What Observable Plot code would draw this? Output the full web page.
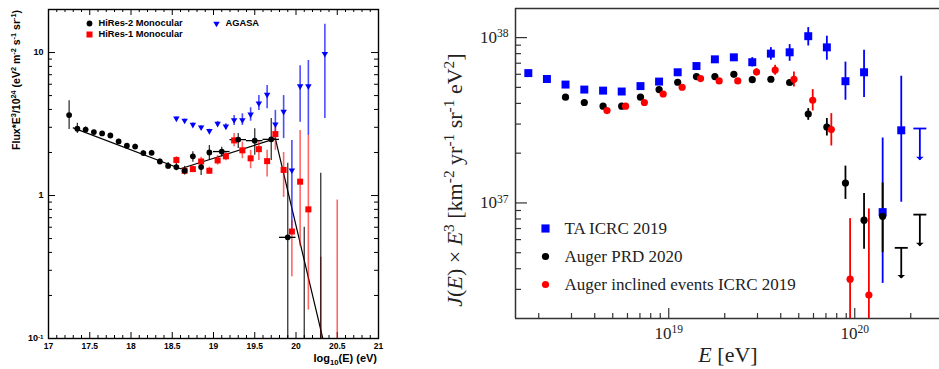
<!DOCTYPE html>
<html><head><meta charset="utf-8">
<script src="https://cdn.jsdelivr.net/npm/d3@7"></script>
<script src="https://cdn.jsdelivr.net/npm/@observablehq/plot@0.6"></script>
<style>
html,body{margin:0;padding:0;background:#fff;overflow:hidden;width:939px;height:369px}
#wrap{position:relative;width:939px;height:369px;overflow:hidden}
#left{position:absolute;left:0;top:0;width:390px;height:369px}
#right{position:absolute;left:440px;top:0;width:503px;height:369px}
</style></head>
<body><div id="wrap"><div id="left"></div><div id="right"></div></div>
<script>
// ================= LEFT PANEL DATA (log10(E) vs Flux*E^3/10^24) =================
const hr2LogE = [17.25,17.35,17.45,17.55,17.65,17.75,17.85,17.95,18.05,18.15,18.25,18.35,18.45,18.55,18.65,18.75,18.85,18.95,19.1,19.3,19.5,19.7,19.9];
const hr2Flux = [3.65,2.93,2.89,2.78,2.72,2.63,2.39,2.23,2.20,1.98,1.99,1.73,1.61,1.58,1.49,1.88,1.58,2.00,2.03,2.46,2.42,2.47,0.51];
const hr2Lo   = [2.90,2.72,2.76,2.70,2.64,2.55,2.32,2.15,2.12,1.91,1.92,1.66,1.53,1.49,1.39,1.71,1.38,1.76,1.86,2.13,1.91,1.76,0.05];
const hr2Hi   = [4.60,3.20,3.02,2.86,2.80,2.72,2.47,2.31,2.28,2.06,2.07,1.80,1.70,1.68,1.60,2.02,1.76,2.24,2.18,2.71,2.93,3.45,1.68];
const hr2BinLogE = [19.1,19.3,19.5,19.7,19.9];
const hr2BinFlux = [2.03,2.46,2.42,2.47,0.51];
const hr2BinHalf = 0.1;
const hr2BarLogE = [20.1,20.3];
const hr2BarLo   = [0.05,0.05];
const hr2BarHi   = [0.60,1.43];

const hr1LogE = [18.55,18.65,18.75,18.85,18.95,19.05,19.15,19.25,19.35,19.45,19.55,19.65,19.75,19.85,19.95,20.05,20.15];
const hr1Flux = [1.77,1.49,1.53,1.73,1.49,1.76,1.88,2.43,2.07,1.82,2.11,1.74,2.69,1.51,0.56,1.25,0.80];
const hr1Lo   = [1.68,1.42,1.46,1.62,1.41,1.63,1.75,2.19,1.81,1.54,1.76,1.35,2.07,0.97,0.27,0.44,0.158];
const hr1Hi   = [1.87,1.57,1.61,1.85,1.58,1.91,2.00,2.71,2.37,2.07,2.43,2.07,3.01,2.00,0.67,2.85,2.63];
const hr1BarLogE = [20.3,20.5];
const hr1BarLo   = [0.05,0.05];
const hr1BarHi   = [0.37,0.93];

const agLogE = [18.55,18.65,18.75,18.85,18.95,19.05,19.15,19.25,19.35,19.45,19.55,19.65,19.75,19.85,19.95,20.05,20.15,20.35];
const agFlux = [3.46,3.34,3.13,3.00,2.83,3.18,3.04,3.37,3.37,3.69,4.41,5.07,3.15,3.86,1.50,5.82,5.82,9.8];
const agLo   = [3.38,3.26,3.05,2.92,2.75,3.05,2.90,3.09,3.09,3.31,3.94,4.05,2.50,2.50,0.56,3.26,2.63,3.45];
const agHi   = [3.54,3.42,3.21,3.08,2.91,3.30,3.18,3.63,3.73,4.11,5.00,5.88,3.94,5.00,2.43,8.10,8.80,15.8];

const fitLogE = [17.3,18.6,19.75,20.325];
const fitFlux = [2.97,1.54,2.50,0.10];

const leftXTicks = [17,17.5,18,18.5,19,19.5,20,20.5,21];
const leftXTickLabels = ["17","17.5","18","18.5","19","19.5","20","20.5","21"];
const leftYTicks = [0.1,1,10];
const leftYTickLabels = ["10^-1","1","10"];
const leftLegend = ["HiRes-2 Monocular","HiRes-1 Monocular","AGASA"];

// ================= RIGHT PANEL DATA (E [eV] vs J(E)E^3 in 1e37 units) =================
const taLogE = [18.245,18.345,18.445,18.546,18.647,18.747,18.848,18.948,19.048,19.149,19.248,19.35,19.449,19.549,19.65,19.75,19.85,19.95,20.05,20.15,20.25];
const taJ    = [6.10,5.62,5.20,4.85,4.78,4.72,5.09,5.42,6.17,6.73,7.39,7.60,7.10,8.00,8.15,10.2,8.73,5.45,6.17,0.88,2.75];
const taLo   = [6.10,5.62,5.20,4.85,4.78,4.72,5.09,5.42,6.17,6.73,7.39,7.60,6.64,7.30,7.19,8.90,7.30,4.18,4.34,0.326,1.01];
const taHi   = [6.10,5.62,5.20,4.85,4.78,4.72,5.09,5.42,6.17,6.73,7.39,7.60,7.57,8.70,9.07,11.5,10.2,7.11,8.38,2.47,5.84];
const taULLogE = [20.35];
const taULCap  = [2.82];
const taULTip  = [1.81];

const augLogE = [18.445,18.546,18.647,18.747,18.848,18.948,19.048,19.149,19.248,19.35,19.449,19.549,19.65,19.75,19.85,19.95,20.05,20.15];
const augJ    = [4.36,4.05,3.85,3.85,4.36,4.85,5.37,5.81,5.81,6.00,5.57,5.60,5.35,3.45,2.88,1.32,0.787,0.83];
const augLo   = [4.36,4.05,3.85,3.85,4.36,4.85,5.37,5.81,5.81,6.00,5.57,5.60,5.20,3.16,2.54,1.05,0.525,0.50];
const augHi   = [4.36,4.05,3.85,3.85,4.36,4.85,5.37,5.81,5.81,6.00,5.57,5.60,5.50,3.72,3.24,1.67,1.14,1.32];
const augULLogE = [20.25,20.35];
const augULCap  = [0.535,0.85];
const augULTip  = [0.349,0.547];

const incLogE = [18.668,18.768,18.869,18.97,19.072,19.171,19.271,19.371,19.472,19.572,19.673,19.774,19.874,19.975,20.076];
const incJ    = [3.62,3.85,4.05,4.56,5.01,5.65,5.47,5.47,6.19,6.37,5.60,4.18,2.78,0.346,0.277];
const incLo   = [3.62,3.85,4.05,4.56,5.01,5.65,5.47,5.47,5.92,5.92,5.02,3.60,2.21,0.10,0.10];
const incHi   = [3.62,3.85,4.05,4.56,5.01,5.65,5.47,5.47,6.49,6.80,6.19,4.85,3.47,0.804,0.92];

const rightXTicks = [1e19,1e20];
const rightXTickLabels = ["10^19","10^20"];
const rightYTicks = [1,10];
const rightYTickLabels = ["10^37","10^38"];
const rightLegend = ["TA ICRC 2019","Auger PRD 2020","Auger inclined events ICRC 2019"];

// ================= helpers =================
const tbl = (xs, ys, lo, hi) => xs.map((x, i) => ({x, y: ys[i], lo: lo ? lo[i] : null, hi: hi ? hi[i] : null}));
const etbl = (logs, ys, lo, hi) => tbl(logs.map(l => Math.pow(10, l)), ys, lo, hi);

const triDown = {draw(ctx, size) {
  const r = Math.sqrt(size / Math.PI);
  const a = r * 1.15, h = r * 2.0;
  ctx.moveTo(-a, -h / 3); ctx.lineTo(a, -h / 3); ctx.lineTo(0, 2 * h / 3); ctx.closePath();
}};
const arrowTip = {draw(ctx, size) {
  const r = Math.sqrt(size / Math.PI);
  ctx.moveTo(-r, -r * 0.95); ctx.lineTo(r, -r * 0.95); ctx.lineTo(0, 0); ctx.closePath();
}};
const hbar = {draw(ctx, size) {
  const r = Math.sqrt(size / Math.PI);
  ctx.moveTo(-r, 0); ctx.lineTo(r, 0);
}};

function supify(svg, supDy) {
  d3.select(svg).selectAll("text").each(function() {
    const t = this.textContent;
    if (!t || !t.includes("^")) return;
    const [base, exp] = t.split("^");
    const sel = d3.select(this);
    sel.text(null);
    sel.append("tspan").text(base);
    sel.append("tspan").attr("dy", supDy).attr("font-size", "68%").text(exp);
  });
}
function rich(sel, parts, supShift, subShift) {
  let cur = 0;
  parts.forEach(([s, kind]) => {
    const ts = sel.append("tspan").text(s);
    const target = kind === "sup" ? -supShift : kind === "sub" ? subShift : 0;
    if (target !== cur) { ts.attr("dy", target - cur); cur = target; }
    if (kind === "sup" || kind === "sub") ts.attr("font-size", "70%");
    if (kind === "i") ts.attr("font-style", "italic");
  });
}

// ================= LEFT PLOT =================
const lw = 390, lh = 369, lml = 48, lmr = 12, lmt = 9, lmb = 31;
const lpw = lw - lml - lmr, lph = lh - lmt - lmb;
const leftXMinor = d3.range(17.1, 21, 0.1).filter(v => Math.abs(v * 2 - Math.round(v * 2)) > 1e-6);
const leftYMinor = [2,3,4,5,6,7,8,9].flatMap(m => [m * 0.1, m, m * 10]).filter(v => v < 20);

const hr2 = tbl(hr2LogE, hr2Flux, hr2Lo, hr2Hi);
const hr2Bin = tbl(hr2BinLogE, hr2BinFlux);
const hr2Bar = tbl(hr2BarLogE, hr2BarHi, hr2BarLo, hr2BarHi);
const hr1 = tbl(hr1LogE, hr1Flux, hr1Lo, hr1Hi);
const hr1Bar = tbl(hr1BarLogE, hr1BarHi, hr1BarLo, hr1BarHi);
const ag = tbl(agLogE, agFlux, agLo, agHi);
const fit = tbl(fitLogE, fitFlux);

const legL = {frameAnchor: "top-left", textAnchor: "start", lineAnchor: "middle", fontSize: 9.3, fontWeight: "bold", fill: "#000"};

const leftPlot = Plot.plot({
  width: lw, height: lh, marginLeft: lml, marginRight: lmr, marginTop: lmt, marginBottom: lmb,
  x: {domain: [17, 21]},
  y: {type: "log", domain: [0.1, 20]},
  style: {fontFamily: "'Liberation Sans', Arial, sans-serif", background: "transparent", maxWidth: "none", overflow: "visible"},
  marks: [
    Plot.tickX(leftXTicks, {x: d => d, insetTop: lph - 6, stroke: "#000"}),
    Plot.tickX(leftXMinor, {x: d => d, insetTop: lph - 3, stroke: "#000"}),
    Plot.tickX(leftXTicks, {x: d => d, insetBottom: lph - 6, stroke: "#000"}),
    Plot.tickX(leftXMinor, {x: d => d, insetBottom: lph - 3, stroke: "#000"}),
    Plot.tickY(leftYTicks, {y: d => d, insetRight: lpw - 7, stroke: "#000"}),
    Plot.tickY(leftYMinor, {y: d => d, insetRight: lpw - 4, stroke: "#000"}),
    Plot.tickY(leftYTicks, {y: d => d, insetLeft: lpw - 7, stroke: "#000"}),
    Plot.tickY(leftYMinor, {y: d => d, insetLeft: lpw - 4, stroke: "#000"}),
    Plot.frame({stroke: "#000", strokeWidth: 1.4}),
    Plot.axisX(leftXTicks, {tickSize: 0, tickPadding: 4, fontSize: 8.5, fontWeight: "bold", label: null,
      tickFormat: d => leftXTickLabels[leftXTicks.indexOf(d)]}),
    Plot.axisY(leftYTicks, {tickSize: 0, tickPadding: 5, fontSize: 9, fontWeight: "bold", label: null,
      tickFormat: d => leftYTickLabels[leftYTicks.indexOf(d)]}),
    // fit
    Plot.line(fit, {x: "x", y: "y", stroke: "#000", strokeWidth: 1.2, clip: true}),
    // error bars
    Plot.ruleX(ag, {x: "x", y1: "lo", y2: "hi", stroke: "#0000ff", strokeOpacity: 0.7, strokeWidth: 1.6, clip: true}),
    Plot.ruleX(hr1, {x: "x", y1: "lo", y2: "hi", stroke: "#ff0000", strokeOpacity: 0.6, strokeWidth: 1.6, clip: true}),
    Plot.ruleX(hr1Bar, {x: "x", y1: "lo", y2: "hi", stroke: "#ff0000", strokeOpacity: 0.6, strokeWidth: 1.6, clip: true}),
    Plot.ruleX(hr2, {x: "x", y1: "lo", y2: "hi", stroke: "#000", strokeOpacity: 0.8, strokeWidth: 1.3, clip: true}),
    Plot.ruleX(hr2Bar, {x: "x", y1: "lo", y2: "hi", stroke: "#000", strokeOpacity: 0.8, strokeWidth: 1.3, clip: true}),
    Plot.ruleY(hr2Bin, {y: "y", x1: d => d.x - hr2BinHalf, x2: d => d.x + hr2BinHalf, stroke: "#000", strokeWidth: 1.3}),
    // markers
    Plot.dot(ag, {x: "x", y: "y", symbol: triDown, r: 2.8, fill: "#0000ff", stroke: "none"}),
    Plot.dot(hr1, {x: "x", y: "y", symbol: "square", r: 3.4, fill: "#ff0000", stroke: "none"}),
    Plot.dot(hr2, {x: "x", y: "y", r: 2.9, fill: "#000", stroke: "none"}),
    // legend
    Plot.dot([leftLegend[0]], {frameAnchor: "top-left", dx: 41, dy: 14, r: 2.9, fill: "#000", stroke: "none"}),
    Plot.dot([leftLegend[1]], {frameAnchor: "top-left", dx: 41, dy: 25, symbol: "square", r: 3.4, fill: "#ff0000", stroke: "none"}),
    Plot.dot([leftLegend[2]], {frameAnchor: "top-left", dx: 168, dy: 14, symbol: triDown, r: 2.8, fill: "#0000ff", stroke: "none"}),
    Plot.text([leftLegend[0]], {...legL, text: d => d, dx: 50, dy: 14}),
    Plot.text([leftLegend[1]], {...legL, text: d => d, dx: 50, dy: 25}),
    Plot.text([leftLegend[2]], {...legL, text: d => d, dx: 177, dy: 14})
  ]
});
supify(leftPlot, "-0.45em");
{
  const s = d3.select(leftPlot);
  const yt = s.append("text").attr("transform", "translate(20,10) rotate(-90)")
    .attr("text-anchor", "end").attr("font-size", 10.5).attr("font-weight", "bold").attr("fill", "#000");
  rich(yt, [["Flux*E",""],["3","sup"],["/10",""],["24","sup"],[" (eV",""],["2","sup"],[" m",""],["-2","sup"],[" s",""],["-1","sup"],[" sr",""],["-1","sup"],[")",""]], 4, 3);
  const xt = s.append("text").attr("x", 377).attr("y", 362)
    .attr("text-anchor", "end").attr("font-size", 11).attr("font-weight", "bold").attr("fill", "#000");
  rich(xt, [["log",""],["10","sub"],["(E) (eV)",""]], 4, 3);
}
document.getElementById("left").appendChild(leftPlot);

// ================= RIGHT PLOT =================
const rw = 503, rh = 369, rml = 75, rmr = 0, rmt = 8, rmb = 51;
const rpw = rw - rml - rmr, rph = rh - rmt - rmb;
const rXDom = [1.5e18, 3e20], rYDom = [0.2, 15];
const rightXMinor = [2,3,4,5,6,7,8,9].flatMap(m => [m * 1e18, m * 1e19, m * 1e20]).filter(v => v > rXDom[0] && v < rXDom[1]);
const rightYMinor = [2,3,4,5,6,7,8,9].flatMap(m => [m * 0.1, m]).filter(v => v > rYDom[0] && v < rYDom[1]);

const ta = etbl(taLogE, taJ, taLo, taHi);
const taUL = etbl(taULLogE, taULCap, taULCap, taULTip);
const aug = etbl(augLogE, augJ, augLo, augHi);
const augUL = etbl(augULLogE, augULCap, augULCap, augULTip);
const inc = etbl(incLogE, incJ, incLo, incHi);

const cBlue = "#0000ff", cRed = "#ff0000", cBlack = "#000";
const axisC = "#333";
const legR = {frameAnchor: "top-left", textAnchor: "start", lineAnchor: "middle", fontSize: 17, fill: "#222"};
const rightPlot = Plot.plot({
  width: rw, height: rh, marginLeft: rml, marginRight: rmr, marginTop: rmt, marginBottom: rmb,
  x: {type: "log", domain: rXDom},
  y: {type: "log", domain: rYDom},
  style: {fontFamily: "'Liberation Serif', 'Times New Roman', serif", background: "transparent", maxWidth: "none", overflow: "visible"},
  marks: [
    Plot.tickX(rightXTicks, {x: d => d, insetTop: rph - 10, stroke: axisC, strokeWidth: 1.2}),
    Plot.tickX(rightXMinor, {x: d => d, insetTop: rph - 5, stroke: axisC, strokeWidth: 1.2}),
    Plot.tickY(rightYTicks, {y: d => d, insetRight: rpw - 12, stroke: axisC, strokeWidth: 1.2}),
    Plot.tickY(rightYMinor, {y: d => d, insetRight: rpw - 6, stroke: axisC, strokeWidth: 1.2}),
    Plot.ruleY([rYDom[1]], {stroke: axisC, strokeWidth: 1.5}),
    Plot.ruleY([rYDom[0]], {stroke: axisC, strokeWidth: 1.5}),
    Plot.ruleX([rXDom[0]], {stroke: axisC, strokeWidth: 1.5}),
    Plot.axisX(rightXTicks, {tickSize: 0, tickPadding: 8, fontSize: 17, label: null, fill: "#222",
      tickFormat: d => rightXTickLabels[rightXTicks.indexOf(d)]}),
    Plot.axisY(rightYTicks, {tickSize: 0, tickPadding: 7, fontSize: 17, label: null, fill: "#222",
      tickFormat: d => rightYTickLabels[rightYTicks.indexOf(d)]}),
    // error bars
    Plot.ruleX(ta, {x: "x", y1: "lo", y2: "hi", stroke: cBlue, strokeWidth: 1.8, clip: true}),
    Plot.ruleX(aug, {x: "x", y1: "lo", y2: "hi", stroke: cBlack, strokeWidth: 1.8, clip: true}),
    Plot.ruleX(inc, {x: "x", y1: "lo", y2: "hi", stroke: cRed, strokeWidth: 1.8, clip: true}),
    // upper limits
    Plot.ruleX(taUL, {x: "x", y1: "lo", y2: "hi", stroke: cBlue, strokeWidth: 1.8}),
    Plot.dot(taUL, {x: "x", y: "lo", symbol: hbar, r: 6.5, fill: "none", stroke: cBlue, strokeWidth: 1.8}),
    Plot.dot(taUL, {x: "x", y: "hi", symbol: arrowTip, r: 3.8, fill: cBlue, stroke: "none"}),
    Plot.ruleX(augUL, {x: "x", y1: "lo", y2: "hi", stroke: cBlack, strokeWidth: 1.8}),
    Plot.dot(augUL, {x: "x", y: "lo", symbol: hbar, r: 6.5, fill: "none", stroke: cBlack, strokeWidth: 1.8}),
    Plot.dot(augUL, {x: "x", y: "hi", symbol: arrowTip, r: 3.8, fill: cBlack, stroke: "none"}),
    // markers
    Plot.dot(ta, {x: "x", y: "y", symbol: "square", r: 4.5, fill: cBlue, stroke: "none"}),
    Plot.dot(aug, {x: "x", y: "y", r: 3.6, fill: cBlack, stroke: "none"}),
    Plot.dot(inc, {x: "x", y: "y", r: 3.6, fill: cRed, stroke: "none"}),
    // legend
    Plot.dot([rightLegend[0]], {frameAnchor: "top-left", dx: 30, dy: 220, symbol: "square", r: 4.6, fill: cBlue, stroke: "none"}),
    Plot.dot([rightLegend[1]], {frameAnchor: "top-left", dx: 30, dy: 248, r: 3.6, fill: cBlack, stroke: "none"}),
    Plot.dot([rightLegend[2]], {frameAnchor: "top-left", dx: 30, dy: 276, r: 3.6, fill: cRed, stroke: "none"}),
    Plot.text([rightLegend[0]], {...legR, text: d => d, dx: 49, dy: 220}),
    Plot.text([rightLegend[1]], {...legR, text: d => d, dx: 49, dy: 248}),
    Plot.text([rightLegend[2]], {...legR, text: d => d, dx: 49, dy: 276})
  ]
});
supify(rightPlot, "-0.5em");
{
  const s = d3.select(rightPlot);
  const yt = s.append("text").attr("transform", "translate(22,180) rotate(-90)")
    .attr("text-anchor", "middle").attr("font-size", 22).attr("fill", "#222");
  rich(yt, [["J","i"],["(",""],["E","i"],[") × ",""],["E","i"],["3","sup"],[" [km",""],["-2","sup"],[" yr",""],["-1","sup"],[" sr",""],["-1","sup"],[" eV",""],["2","sup"],["]",""]], 8, 4);
  const xt = s.append("text").attr("x", 288).attr("y", 362)
    .attr("text-anchor", "middle").attr("font-size", 22).attr("fill", "#222");
  rich(xt, [["E","i"],[" [eV]",""]], 8, 4);
}
document.getElementById("right").appendChild(rightPlot);
</script>
</body></html>
